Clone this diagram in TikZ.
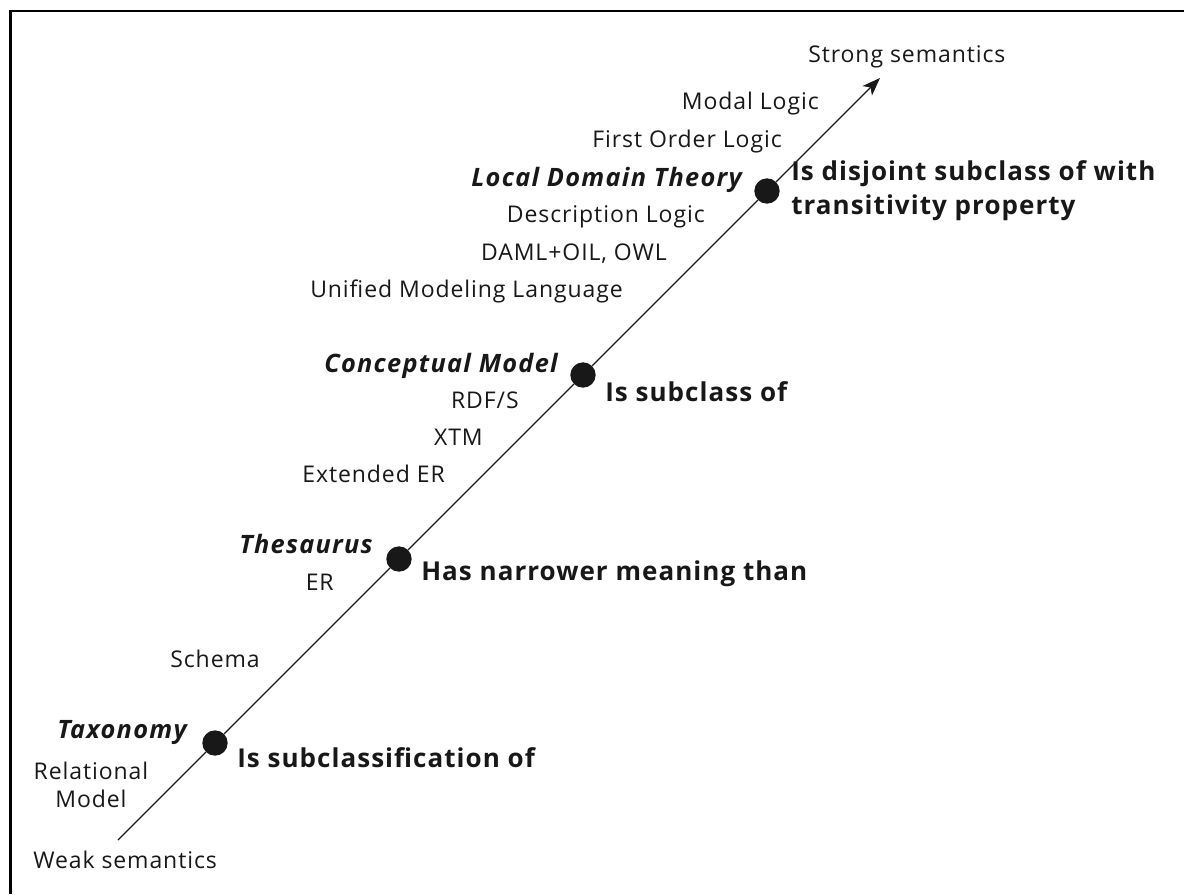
\documentclass[tikz,border=0pt]{standalone}
\usepackage{fontspec}
\setmainfont{Open Sans}
\newfontfamily\lblfont[LetterSpace=4]{Open Sans}
\newfontfamily\catfont[LetterSpace=5]{Open Sans}
\newfontfamily\relfont[LetterSpace=4]{Open Sans}
\usetikzlibrary{arrows.meta}
\definecolor{ink}{RGB}{24,24,24}
\begin{document}
\begin{tikzpicture}[x=0.75pt,y=-0.75pt,
  lbl/.style={inner sep=0pt, text=ink, font=\lblfont\fontsize{17.25}{20.5}\selectfont},
  cat/.style={inner sep=0pt, text=ink, font=\catfont\fontsize{19}{22}\selectfont\bfseries\itshape},
  rel/.style={inner sep=0pt, text=ink, font=\relfont\fontsize{19.5}{25.5}\selectfont\bfseries},
  dot/.style={circle, fill=ink, inner sep=0pt, minimum size=19pt},
  axis/.style={line width=0.95pt, draw=ink}]
\useasboundingbox (0,0) rectangle (1184,894);
% frame (top and left edges)
\draw[line width=1.8pt, black] (10.5,894) -- (10.5,11.2) -- (1184,11.2);
% axis
\coordinate (start) at (118,840);
\coordinate (tip) at (880,78);
\node[dot] (tax) at (215,743) {};
\node[dot] (the) at (399,559) {};
\node[dot] (con) at (583,375) {};
\node[dot] (ldt) at (767,191) {};
\draw[axis] (start) -- (tax);
\draw[axis] (tax) -- (the);
\draw[axis] (the) -- (con);
\draw[axis] (con) -- (ldt);
\draw[axis, -{Stealth[length=13.5pt, width=10pt, inset=3.5pt]}] (ldt) -- (tip);
% end labels
\node[lbl, anchor=base west] (strong) at (808,62) {Strong semantics};
\node[lbl, anchor=base west] (weak) at (33,868) {Weak semantics};
% left-side labels
\node[lbl, anchor=base east] (modal) at (819,109) {Modal Logic};
\node[lbl, anchor=base east] (fol) at (782,147) {First Order Logic};
\node[cat, anchor=base east] (ldtl) at (742,186) {Local Domain Theory};
\node[lbl, anchor=base east] (dl) at (705,222) {Description Logic};
\node[lbl, anchor=base east] (daml) at (667,260) {DAML+OIL, OWL};
\node[lbl, anchor=base east] (uml) at (623,297) {Unified Modeling Language};
\node[cat, anchor=base east] (conl) at (558,372) {Conceptual Model};
\node[lbl, anchor=base east] (rdf) at (519,408) {RDF/S};
\node[lbl, anchor=base east] (xtm) at (483,445) {XTM};
\node[lbl, anchor=base east] (eer) at (445,482) {Extended ER};
\node[cat, anchor=base east] (thel) at (373,553) {Thesaurus};
\node[lbl, anchor=base east] (er) at (334,590) {ER};
\node[lbl, anchor=base east] (schema) at (260,667) {Schema};
\node[cat, anchor=base east] (taxl) at (187,738) {Taxonomy};
\node[lbl, align=center, anchor=center] (relm) at (91,785) {Relational\\Model};
% right-side relations
\node[rel, anchor=base west, align=left] (ldtr) at (791,214) {Is disjoint subclass of with\\transitivity property};
\node[rel, anchor=base west] (conr) at (605,401) {Is subclass of};
\node[rel, anchor=base west] (ther) at (421,580) {Has narrower meaning than};
\node[rel, anchor=base west] (taxr) at (237,767) {Is subclassification of};
\end{tikzpicture}
\end{document}
